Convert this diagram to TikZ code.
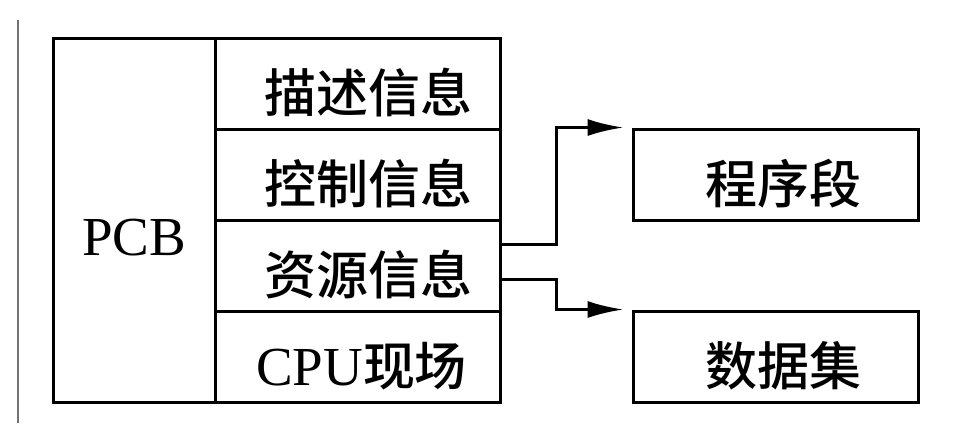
\documentclass[tikz,border=0pt]{standalone}
\usepackage{fontspec}
\setmainfont{Liberation Serif}
\newfontfamily\cjk{Noto Sans CJK SC}[UprightFont=* Medium]
\usetikzlibrary{arrows.meta, positioning, calc}

\begin{document}
\begin{tikzpicture}[
    x=1pt, y=-1pt,
    cell/.style={rectangle, draw=black, line width=3pt,
                 minimum width=285pt, minimum height=91pt, inner sep=0pt,
                 font=\fontsize{52}{62}\selectfont\cjk,
                 text height=58pt, text depth=0pt},
    latin/.style={font=\fontsize{55}{66}\selectfont\rmfamily},
    link/.style={line width=3pt, -{Latex[length=36pt, width=17pt]},
                 shorten >=8pt},
    rule/.style={draw=black!55, line width=1.5pt},
  ]
    \useasboundingbox (0,0) rectangle (953,429);

    % left margin rule
    \draw[rule] (18,20) -- (18,423);

    % PCB block
    \node[cell, minimum width=162pt, minimum height=364pt,
          latin, text height=70pt] (pcb) at (134,220) {PCB};
    \node[cell] (desc) at (357.5,83.5) {\hspace{22pt}描述信息};
    \node[cell] (ctrl) at (357.5,174.5) {\hspace{22pt}控制信息};
    \node[cell] (res)  at (357.5,265.5) {\hspace{22pt}资源信息};
    \node[cell] (cpu)  at (357.5,356.5) {\hspace{8pt}{\fontsize{55}{66}\selectfont\rmfamily CPU}现场};

    % program and data
    \node[cell, right=130pt of ctrl] (prog) {\hspace{16pt}程序段};
    \node[cell, right=130pt of cpu]  (data) {\hspace{16pt}数据集};

    \draw[link] ($(res.east)+(0,-21)$) -- ++(55,0) |- (prog.north west);
    \draw[link] ($(res.east)+(0,14)$)  -- ++(55,0) |- (data.north west);
  \end{tikzpicture}
\end{document}
